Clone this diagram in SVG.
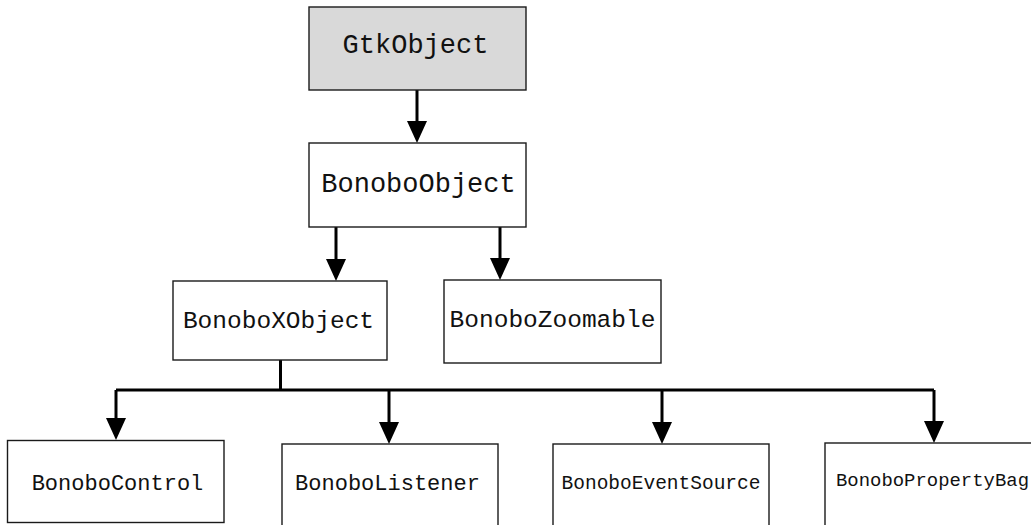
<svg xmlns="http://www.w3.org/2000/svg" width="1031" height="525" viewBox="0 0 1031 525">
  <style>
    .box { fill: #ffffff; stroke: #1a1a1a; stroke-width: 1.4; }
    .root { fill: #d9d9d9; }
    .lbl { font-family: "Liberation Mono", "Courier New", monospace; fill: #111111; text-anchor: middle; }
    .edge { fill: none; stroke: #000000; stroke-width: 3; }
  </style>
  <defs>
    <marker id="head" markerUnits="userSpaceOnUse" viewBox="0 0 22 20" refX="0" refY="10" markerWidth="22" markerHeight="20" orient="auto">
      <path d="M0,0 L22,10 L0,20 Z" fill="#000000"/>
    </marker>
  </defs>
  <rect width="1031" height="525" fill="#ffffff"/>

  <!-- inheritance connectors -->
  <g id="connectors">
    <path class="edge" d="M417,90 V121" marker-end="url(#head)"/>
    <path class="edge" d="M336,227 V259" marker-end="url(#head)"/>
    <path class="edge" d="M500,227 V258" marker-end="url(#head)"/>
    <path class="edge" d="M280.5,360 V390"/>
    <path class="edge" d="M116,390 H934"/>
    <path class="edge" d="M116,390 V418" marker-end="url(#head)"/>
    <path class="edge" d="M389,390 V422" marker-end="url(#head)"/>
    <path class="edge" d="M662,390 V422" marker-end="url(#head)"/>
    <path class="edge" d="M934,390 V421" marker-end="url(#head)"/>
  </g>

  <g id="GtkObject">
    <rect class="box root" x="309" y="7" width="217" height="83"/>
    <text class="lbl" x="415.5" y="52.5" font-size="27">GtkObject</text>
  </g>
  <g id="BonoboObject">
    <rect class="box" x="309" y="143" width="217" height="84"/>
    <text class="lbl" x="418.5" y="192" font-size="27">BonoboObject</text>
  </g>
  <g id="BonoboXObject">
    <rect class="box" x="173" y="281" width="214" height="79"/>
    <text class="lbl" x="278.5" y="328" font-size="24.5">BonoboXObject</text>
  </g>
  <g id="BonoboZoomable">
    <rect class="box" x="444" y="280" width="217" height="83"/>
    <text class="lbl" x="552.5" y="327" font-size="24.5">BonoboZoomable</text>
  </g>
  <g id="BonoboControl">
    <rect class="box" x="7.5" y="440.5" width="216.5" height="82"/>
    <text class="lbl" x="117.5" y="489.5" font-size="22">BonoboControl</text>
  </g>
  <g id="BonoboListener">
    <rect class="box" x="282" y="444" width="216" height="100"/>
    <text class="lbl" x="387.5" y="490" font-size="22">BonoboListener</text>
  </g>
  <g id="BonoboEventSource">
    <rect class="box" x="553" y="444" width="216" height="100"/>
    <text class="lbl" x="661" y="489" font-size="19.5">BonoboEventSource</text>
  </g>
  <g id="BonoboPropertyBag">
    <rect class="box" x="825" y="443" width="230" height="100"/>
    <text class="lbl" x="836" y="486" font-size="19" style="text-anchor:start" textLength="193" lengthAdjust="spacingAndGlyphs">BonoboPropertyBag</text>
  </g>
</svg>
